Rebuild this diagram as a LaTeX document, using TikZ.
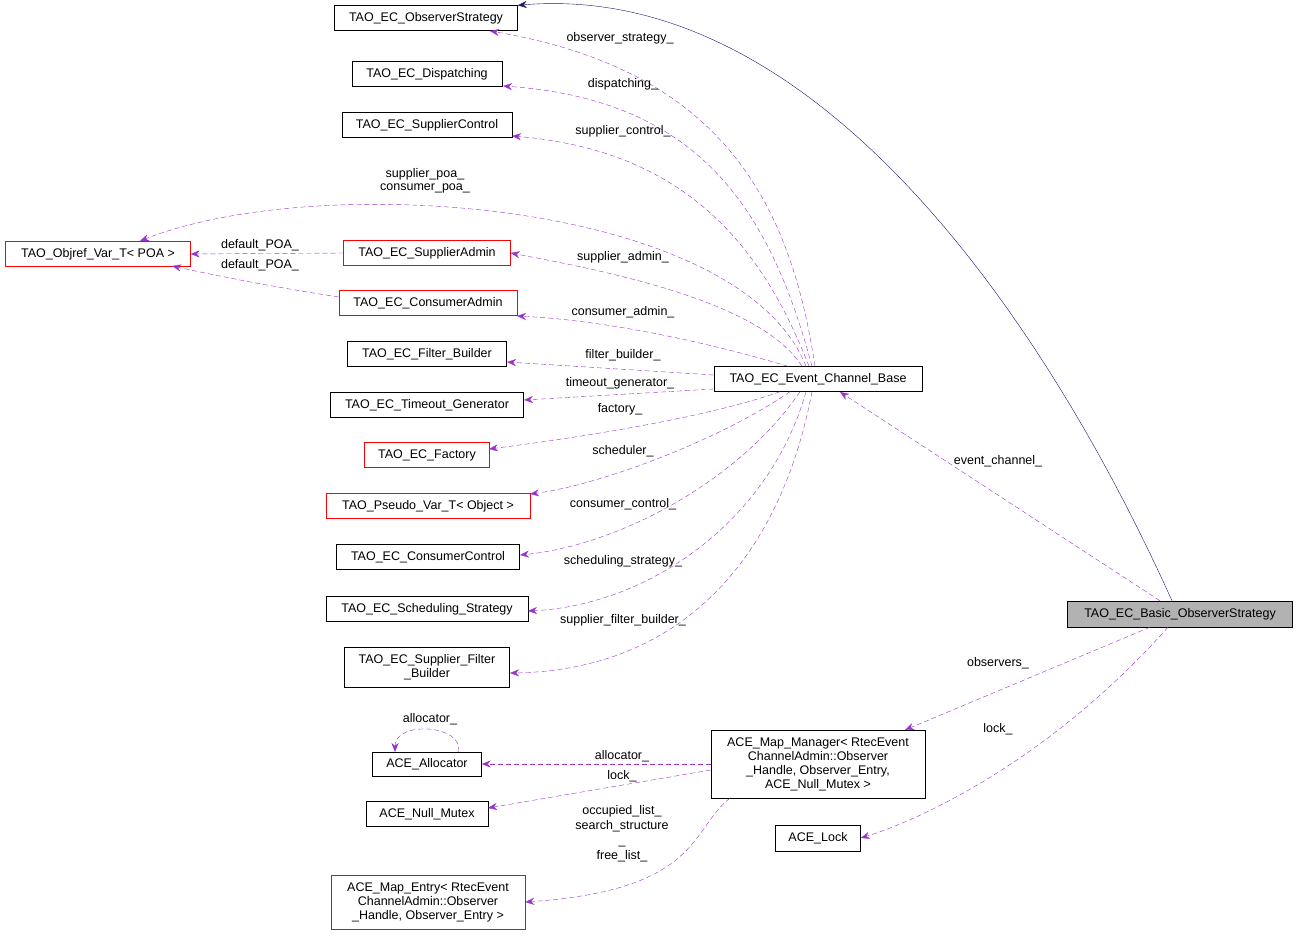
\documentclass[tikz,border=0pt]{standalone}
\usepackage{fontspec}
\setmainfont{Liberation Sans}
\usetikzlibrary{arrows.meta}
\definecolor{epurple}{HTML}{9A32CD}
\definecolor{enavy}{HTML}{191970}
\begin{document}
\begin{tikzpicture}[x=1pt,y=-1pt,font=\fontsize{12.5}{14}\selectfont,
 box/.style={draw=black,fill=white,inner sep=2pt,align=center},
 rbox/.style={box,draw=red},
 mem/.style={draw=epurple,dashed,dash pattern=on 5pt off 3pt,-{Stealth[length=9pt,width=7pt]}},
 inh/.style={draw=enavy,-{Stealth[length=9pt,width=7pt]}},
 lab/.style={inner sep=0pt,align=center,font=\fontsize{12.5}{12.5}\selectfont}]
\useasboundingbox (0,0) rectangle (1299,936);
\node[box,minimum width=183pt,minimum height=25pt] (os) at (426,18) {TAO\_EC\_ObserverStrategy};
\node[box,minimum width=150pt,minimum height=25pt] (disp) at (427,74) {TAO\_EC\_Dispatching};
\node[box,minimum width=170pt,minimum height=25pt] (sc) at (427,125) {TAO\_EC\_SupplierControl};
\node[rbox,minimum width=185pt,minimum height=25pt] (obj) at (98,254) {TAO\_Objref\_Var\_T< POA >};
\node[rbox,minimum width=167pt,minimum height=25pt] (sa) at (427,253) {TAO\_EC\_SupplierAdmin};
\node[rbox,minimum width=178pt,minimum height=25pt] (ca) at (428,303) {TAO\_EC\_ConsumerAdmin};
\node[box,minimum width=159pt,minimum height=25pt] (fb) at (427,354) {TAO\_EC\_Filter\_Builder};
\node[box,minimum width=193pt,minimum height=25pt] (tg) at (427,405) {TAO\_EC\_Timeout\_Generator};
\node[rbox,minimum width=125pt,minimum height=25pt] (fac) at (427,455) {TAO\_EC\_Factory};
\node[rbox,minimum width=204pt,minimum height=25pt] (pv) at (428,506) {TAO\_Pseudo\_Var\_T< Object >};
\node[box,minimum width=183pt,minimum height=25pt] (cc) at (428,557) {TAO\_EC\_ConsumerControl};
\node[box,minimum width=202pt,minimum height=25pt] (ss) at (427,609) {TAO\_EC\_Scheduling\_Strategy};
\node[box,minimum width=165pt,minimum height=40pt,inner sep=1pt] (sfb) at (427,667) {TAO\_EC\_Supplier\_Filter\\\_Builder};
\node[box,minimum width=208pt,minimum height=25pt] (ecb) at (818,379) {TAO\_EC\_Event\_Channel\_Base};
\node[box,fill=black!30,minimum width=225pt,minimum height=26pt] (bos) at (1180,614) {TAO\_EC\_Basic\_ObserverStrategy};
\node[box,minimum width=214pt,minimum height=68pt,inner sep=1pt] (mm) at (818,764) {ACE\_Map\_Manager< RtecEvent\\ChannelAdmin::Observer\\\_Handle, Observer\_Entry,\\ACE\_Null\_Mutex >};
\node[box,minimum width=109pt,minimum height=24pt] (al) at (427,764) {ACE\_Allocator};
\node[box,minimum width=122pt,minimum height=25pt] (nm) at (427,814) {ACE\_Null\_Mutex};
\node[box,minimum width=85pt,minimum height=26pt] (lk) at (818,838) {ACE\_Lock};
\node[rbox,minimum width=194pt,minimum height=54pt,inner sep=1pt] (me) at (428,902) {ACE\_Map\_Entry< RtecEvent\\ChannelAdmin::Observer\\\_Handle, Observer\_Entry >};

\draw[inh] (bos.north) ++(-8,0) .. controls (1050,330) and (820,-20) .. (os.north east);
\draw[mem] (ecb.north) ++(-3,0) .. controls (790,200) and (720,70) .. (490,31);
\draw[mem] (ecb.north) ++(-6,0) .. controls (770,210) and (700,100) .. (503,86);
\draw[mem] (ecb.north) ++(-9,0) .. controls (760,240) and (680,150) .. (512,136);
\draw[mem] (ecb.north) ++(-12,0) .. controls (740,200) and (320,170) .. (140,241);
\draw[mem] (ecb.north) ++(-16,0) .. controls (760,300) and (600,270) .. (sa.east);
\draw[mem] (ecb.north) ++(-30,0) .. controls (700,340) and (600,320) .. (517,316);
\draw[mem] (ecb.west) ++(0,-4) -- (507,362);
\draw[mem] (ecb.west) ++(0,10) -- (524,400);
\draw[mem] (ecb.south) ++(-38,0) .. controls (700,420) and (560,440) .. (489,449);
\draw[mem] (ecb.south) ++(-28,0) .. controls (720,440) and (600,485) .. (530,494);
\draw[mem] (ecb.south) ++(-18,0) .. controls (740,480) and (620,545) .. (520,555);
\draw[mem] (ecb.south) ++(-12,0) .. controls (770,520) and (650,605) .. (528,611);
\draw[mem] (ecb.south) ++(-6,0) .. controls (780,560) and (680,670) .. (510,673);
\draw[mem] (sa.west) -- (obj.east);
\draw[mem] (ca.west) ++(0,-6) .. controls (260,285) and (200,272) .. (172,266);
\draw[mem] (bos.north) ++(-20,0) -- (840,392);
\draw[mem] (bos.south) ++(-30,0) -- (905,730);
\draw[mem] (bos.south) ++(-12,0) .. controls (1050,760) and (920,820) .. (lk.east);
\draw[mem] (mm.west) -- (al.east);
\draw[mem] (mm.west) ++(0,6) -- (488,808);
\draw[mem] (730,798) .. controls (690,830) and (700,890) .. (me.east);
\draw[mem] (458,752) .. controls (465,725) and (395,720) .. (395,752);

\node[lab] at (620,38) {observer\_strategy\_};
\node[lab] at (623,84) {dispatching\_};
\node[lab] at (623,131) {supplier\_control\_};
\node[lab] at (425,181) {supplier\_poa\_\\consumer\_poa\_};
\node[lab] at (260,245) {default\_POA\_};
\node[lab] at (260,265) {default\_POA\_};
\node[lab] at (623,257) {supplier\_admin\_};
\node[lab] at (623,312) {consumer\_admin\_};
\node[lab] at (623,355) {filter\_builder\_};
\node[lab] at (620,383) {timeout\_generator\_};
\node[lab] at (620,409) {factory\_};
\node[lab] at (623,451) {scheduler\_};
\node[lab] at (623,504) {consumer\_control\_};
\node[lab] at (623,561) {scheduling\_strategy\_};
\node[lab] at (623,620) {supplier\_filter\_builder\_};
\node[lab] at (998,461) {event\_channel\_};
\node[lab] at (998,663) {observers\_};
\node[lab] at (998,729) {lock\_};
\node[lab] at (430,719) {allocator\_};
\node[lab] at (622,756) {allocator\_};
\node[lab] at (622,776) {lock\_};
\node[lab,font=\fontsize{12.5}{15}\selectfont] at (622,834) {occupied\_list\_\\search\_structure\\\_\\free\_list\_};
\end{tikzpicture}
\end{document}
